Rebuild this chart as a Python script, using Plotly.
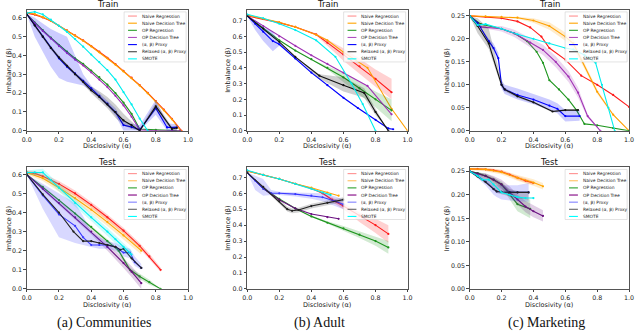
import plotly.graph_objects as go

W, H = 640, 333

SERIES = ["Naive Regression", "Naive Decision Tree", "OP Regression", "OP Decision Tree",
          "(α, β) Proxy", "Relaxed (α, β) Proxy", "SMOTE"]

# ---------------- Communities / Train ----------------
COMM_TRAIN = {
    "Naive Regression": dict(
        x=[0, 0.05, 0.1, 0.15, 0.2, 0.25, 0.3, 0.35, 0.4, 0.45, 0.5, 0.55, 0.6, 0.65, 0.7, 0.75, 0.8, 0.85, 0.9, 0.96],
        y=[0.625, 0.617, 0.602, 0.583, 0.558, 0.533, 0.507, 0.48, 0.45, 0.42, 0.388, 0.354, 0.318, 0.282, 0.243, 0.202, 0.158, 0.112, 0.064, 0.0]),
    "Naive Decision Tree": dict(
        x=[0, 0.05, 0.1, 0.15, 0.2, 0.25, 0.3, 0.35, 0.4, 0.45, 0.5, 0.55, 0.6, 0.65, 0.7, 0.75, 0.8, 0.85, 0.9, 0.955],
        y=[0.628, 0.62, 0.604, 0.584, 0.558, 0.532, 0.505, 0.478, 0.448, 0.417, 0.385, 0.351, 0.315, 0.279, 0.24, 0.199, 0.155, 0.109, 0.061, 0.0]),
    "OP Regression": dict(
        x=[0, 0.05, 0.1, 0.15, 0.2, 0.25, 0.3, 0.35, 0.4, 0.45, 0.5, 0.55, 0.6, 0.65, 0.7, 0.8, 0.9, 0.95],
        y=[0.62, 0.575, 0.535, 0.495, 0.455, 0.42, 0.385, 0.355, 0.32, 0.285, 0.245, 0.2, 0.15, 0.09, 0.01, 0.005, 0.0, 0.0]),
    "OP Decision Tree": dict(
        x=[0, 0.05, 0.1, 0.15, 0.2, 0.25, 0.3, 0.35, 0.4, 0.45, 0.5, 0.55, 0.6, 0.65, 0.7, 0.8, 0.9, 0.95],
        y=[0.62, 0.572, 0.53, 0.49, 0.45, 0.413, 0.378, 0.347, 0.31, 0.272, 0.232, 0.186, 0.135, 0.075, 0.005, 0.0, 0.0, 0.0]),
    "(α, β) Proxy": dict(
        x=[0, 0.05, 0.1, 0.15, 0.2, 0.25, 0.3, 0.35, 0.4, 0.45, 0.5, 0.55, 0.6, 0.65, 0.7, 0.8, 0.87, 0.93],
        y=[0.62, 0.56, 0.5, 0.44, 0.385, 0.34, 0.305, 0.265, 0.225, 0.185, 0.145, 0.1, 0.03, 0.02, 0.005, 0.12, 0.018, 0.018],
        lo=[0.62, 0.5, 0.42, 0.34, 0.28, 0.26, 0.25, 0.24, 0.21, 0.17, 0.13, 0.08, 0.0, 0.0, 0.0, 0.085, 0.0, 0.0],
        hi=[0.62, 0.6, 0.57, 0.54, 0.52, 0.5, 0.4, 0.3, 0.24, 0.2, 0.16, 0.12, 0.05, 0.04, 0.03, 0.165, 0.04, 0.035]),
    "Relaxed (α, β) Proxy": dict(
        x=[0, 0.05, 0.1, 0.15, 0.2, 0.25, 0.3, 0.35, 0.4, 0.45, 0.5, 0.55, 0.6, 0.65, 0.7, 0.8, 0.9, 0.93],
        y=[0.62, 0.56, 0.5, 0.44, 0.39, 0.345, 0.3, 0.26, 0.215, 0.18, 0.14, 0.1, 0.055, 0.03, 0.0, 0.13, 0.01, 0.015],
        lo=[0.62, 0.55, 0.49, 0.43, 0.38, 0.335, 0.29, 0.25, 0.2, 0.16, 0.12, 0.07, 0.03, 0.01, 0.0, 0.11, 0.0, 0.0],
        hi=[0.62, 0.57, 0.51, 0.45, 0.4, 0.355, 0.31, 0.275, 0.235, 0.21, 0.18, 0.14, 0.09, 0.05, 0.01, 0.15, 0.02, 0.03]),
    "SMOTE": dict(
        x=[0, 0.05, 0.1, 0.15, 0.2, 0.25, 0.3, 0.35, 0.4, 0.45, 0.5, 0.55, 0.6, 0.65, 0.7, 0.75],
        y=[0.625, 0.632, 0.618, 0.59, 0.558, 0.525, 0.487, 0.447, 0.405, 0.365, 0.322, 0.272, 0.205, 0.14, 0.065, 0.0]),
}

# ---------------- Adult / Train ----------------
ADULT_TRAIN = {
    "Naive Regression": dict(
        x=[0, 0.1, 0.2, 0.3, 0.43, 0.5, 0.6, 0.7, 0.8, 0.9],
        y=[0.73, 0.71, 0.687, 0.66, 0.612, 0.56, 0.485, 0.41, 0.33, 0.245],
        lo=[0.73, 0.708, 0.684, 0.656, 0.606, 0.54, 0.445, 0.36, 0.28, 0.2],
        hi=[0.73, 0.712, 0.69, 0.664, 0.618, 0.58, 0.525, 0.46, 0.39, 0.33]),
    "Naive Decision Tree": dict(
        x=[0, 0.1, 0.2, 0.3, 0.43, 0.5, 0.6, 0.75, 0.9, 1.0],
        y=[0.735, 0.713, 0.69, 0.66, 0.61, 0.575, 0.5, 0.4, 0.14, 0.0]),
    "OP Regression": dict(
        x=[0, 0.1, 0.2, 0.3, 0.4, 0.5, 0.6, 0.7, 0.8, 0.9],
        y=[0.73, 0.65, 0.575, 0.51, 0.455, 0.4, 0.34, 0.27, 0.2, 0.13],
        lo=[0.73, 0.65, 0.575, 0.51, 0.455, 0.39, 0.31, 0.23, 0.15, 0.06],
        hi=[0.73, 0.65, 0.575, 0.51, 0.455, 0.41, 0.37, 0.31, 0.25, 0.2]),
    "OP Decision Tree": dict(
        x=[0, 0.1, 0.2, 0.3, 0.4, 0.5, 0.6, 0.75, 0.9],
        y=[0.73, 0.665, 0.6, 0.54, 0.48, 0.425, 0.37, 0.285, 0.105]),
    "(α, β) Proxy": dict(
        x=[0, 0.05, 0.1, 0.16, 0.2, 0.3, 0.4, 0.5, 0.6, 0.69, 0.8, 0.88, 0.91],
        y=[0.73, 0.68, 0.63, 0.57, 0.55, 0.46, 0.37, 0.29, 0.21, 0.145, 0.07, 0.015, 0.01],
        lo=[0.73, 0.64, 0.57, 0.505, 0.54, 0.455, 0.365, 0.285, 0.205, 0.14, 0.065, 0.01, 0.005],
        hi=[0.73, 0.7, 0.66, 0.63, 0.56, 0.465, 0.375, 0.295, 0.215, 0.15, 0.075, 0.02, 0.015]),
    "Relaxed (α, β) Proxy": dict(
        x=[0, 0.1, 0.2, 0.3, 0.45, 0.6, 0.73, 0.8, 0.88],
        y=[0.73, 0.65, 0.565, 0.47, 0.35, 0.29, 0.24, 0.12, 0.0],
        lo=[0.73, 0.65, 0.565, 0.47, 0.33, 0.25, 0.21, 0.1, 0.0],
        hi=[0.73, 0.65, 0.565, 0.47, 0.36, 0.34, 0.27, 0.14, 0.0]),
    "SMOTE": dict(
        x=[0, 0.1, 0.2, 0.3, 0.43, 0.55, 0.65, 0.72, 0.8],
        y=[0.74, 0.715, 0.68, 0.64, 0.575, 0.47, 0.3, 0.17, 0.0]),
}

# ---------------- Marketing / Train ----------------
MARKET_TRAIN = {
    "Naive Regression": dict(
        x=[0, 0.1, 0.2, 0.3, 0.38, 0.45, 0.5, 0.6, 0.7, 0.8, 0.9, 1.0],
        y=[0.25, 0.248, 0.245, 0.238, 0.225, 0.205, 0.18, 0.155, 0.12, 0.1, 0.078, 0.052]),
    "Naive Decision Tree": dict(
        x=[0, 0.1, 0.2, 0.3, 0.4, 0.5, 0.6, 0.65, 0.7, 0.8, 0.9, 1.0],
        y=[0.25, 0.249, 0.248, 0.246, 0.24, 0.228, 0.205, 0.19, 0.155, 0.085, 0.035, 0.0],
        lo=[0.25, 0.249, 0.247, 0.244, 0.235, 0.22, 0.196, 0.18, 0.148, 0.08, 0.033, 0.0],
        hi=[0.25, 0.249, 0.249, 0.248, 0.245, 0.236, 0.214, 0.2, 0.162, 0.09, 0.037, 0.0]),
    "OP Regression": dict(
        x=[0, 0.07, 0.2, 0.28, 0.36, 0.42, 0.46, 0.5, 0.56, 0.62, 0.67, 0.72, 0.8, 0.9, 1.0],
        y=[0.25, 0.232, 0.222, 0.212, 0.195, 0.172, 0.148, 0.11, 0.09, 0.068, 0.045, 0.015, 0.012, 0.006, 0.0]),
    "OP Decision Tree": dict(
        x=[0, 0.07, 0.2, 0.28, 0.38, 0.46, 0.54, 0.62, 0.68, 0.74, 0.82],
        y=[0.25, 0.226, 0.222, 0.212, 0.192, 0.176, 0.15, 0.118, 0.083, 0.032, 0.0],
        lo=[0.25, 0.224, 0.216, 0.204, 0.182, 0.165, 0.138, 0.106, 0.072, 0.028, 0.0],
        hi=[0.25, 0.228, 0.228, 0.22, 0.202, 0.187, 0.162, 0.13, 0.094, 0.036, 0.0]),
    "(α, β) Proxy": dict(
        x=[0, 0.05, 0.12, 0.15, 0.18, 0.2, 0.22, 0.3, 0.4, 0.5, 0.55, 0.6, 0.69],
        y=[0.25, 0.235, 0.195, 0.18, 0.158, 0.1, 0.09, 0.078, 0.068, 0.055, 0.048, 0.032, 0.032],
        lo=[0.25, 0.235, 0.19, 0.175, 0.15, 0.092, 0.08, 0.068, 0.058, 0.045, 0.038, 0.02, 0.022],
        hi=[0.25, 0.235, 0.2, 0.19, 0.17, 0.11, 0.1, 0.092, 0.08, 0.068, 0.06, 0.045, 0.045]),
    "Relaxed (α, β) Proxy": dict(
        x=[0, 0.05, 0.12, 0.2, 0.22, 0.3, 0.4, 0.52, 0.6, 0.68],
        y=[0.25, 0.228, 0.19, 0.1, 0.09, 0.075, 0.062, 0.042, 0.045, 0.045],
        lo=[0.25, 0.212, 0.178, 0.095, 0.086, 0.072, 0.06, 0.04, 0.043, 0.043],
        hi=[0.25, 0.245, 0.222, 0.11, 0.094, 0.078, 0.064, 0.044, 0.047, 0.047]),
    "SMOTE": dict(
        x=[0, 0.05, 0.1, 0.2, 0.3, 0.4, 0.5, 0.6, 0.65, 0.72, 0.79, 0.83, 0.87, 0.91],
        y=[0.25, 0.23, 0.232, 0.222, 0.21, 0.2, 0.19, 0.18, 0.177, 0.165, 0.148, 0.1, 0.05, 0.0]),
}

# ---------------- Communities / Test ----------------
COMM_TEST = {
    "Naive Regression": dict(
        x=[0, 0.05, 0.1, 0.15, 0.2, 0.3, 0.4, 0.5, 0.6, 0.7, 0.76, 0.83],
        y=[0.61, 0.605, 0.59, 0.57, 0.55, 0.5, 0.44, 0.375, 0.305, 0.225, 0.17, 0.1],
        lo=[0.6, 0.593, 0.577, 0.556, 0.535, 0.485, 0.425, 0.36, 0.29, 0.21, 0.155, 0.088],
        hi=[0.62, 0.617, 0.603, 0.584, 0.565, 0.515, 0.455, 0.39, 0.32, 0.24, 0.185, 0.112]),
    "Naive Decision Tree": dict(
        x=[0, 0.1, 0.2, 0.3, 0.4, 0.5, 0.6, 0.71],
        y=[0.61, 0.58, 0.53, 0.475, 0.415, 0.35, 0.28, 0.2],
        lo=[0.6, 0.565, 0.51, 0.455, 0.395, 0.33, 0.26, 0.18],
        hi=[0.62, 0.595, 0.55, 0.495, 0.435, 0.37, 0.3, 0.22]),
    "OP Regression": dict(
        x=[0, 0.1, 0.2, 0.3, 0.4, 0.5, 0.57, 0.64, 0.7, 0.76, 0.83],
        y=[0.6, 0.535, 0.465, 0.395, 0.325, 0.25, 0.2, 0.1, 0.065, 0.035, 0.0],
        lo=[0.6, 0.53, 0.46, 0.39, 0.318, 0.24, 0.188, 0.088, 0.052, 0.022, 0.0],
        hi=[0.6, 0.54, 0.47, 0.4, 0.332, 0.26, 0.212, 0.112, 0.078, 0.048, 0.0]),
    "OP Decision Tree": dict(
        x=[0, 0.1, 0.2, 0.3, 0.4, 0.5, 0.6, 0.65, 0.71],
        y=[0.6, 0.525, 0.45, 0.375, 0.3, 0.22, 0.135, 0.09, 0.03],
        lo=[0.6, 0.515, 0.44, 0.362, 0.285, 0.2, 0.11, 0.062, 0.0],
        hi=[0.6, 0.535, 0.46, 0.388, 0.315, 0.24, 0.16, 0.118, 0.06]),
    "(α, β) Proxy": dict(
        x=[0, 0.1, 0.2, 0.3, 0.35, 0.4, 0.45, 0.5, 0.55, 0.6, 0.64, 0.67, 0.71],
        y=[0.6, 0.49, 0.39, 0.33, 0.27, 0.23, 0.23, 0.23, 0.22, 0.19, 0.19, 0.14, 0.11],
        lo=[0.6, 0.42, 0.27, 0.24, 0.23, 0.22, 0.21, 0.21, 0.2, 0.17, 0.16, 0.12, 0.1],
        hi=[0.6, 0.55, 0.5, 0.45, 0.38, 0.3, 0.27, 0.25, 0.24, 0.22, 0.21, 0.17, 0.13]),
    "Relaxed (α, β) Proxy": dict(
        x=[0, 0.1, 0.2, 0.29, 0.35, 0.4, 0.45, 0.5, 0.55, 0.58, 0.6, 0.65, 0.71],
        y=[0.6, 0.495, 0.4, 0.3, 0.25, 0.25, 0.24, 0.23, 0.22, 0.205, 0.21, 0.16, 0.11]),
    "SMOTE": dict(
        x=[0, 0.05, 0.1, 0.15, 0.2, 0.3, 0.4, 0.5, 0.55, 0.6, 0.65],
        y=[0.61, 0.61, 0.61, 0.57, 0.53, 0.45, 0.375, 0.3, 0.26, 0.22, 0.18],
        lo=[0.6, 0.595, 0.59, 0.55, 0.51, 0.43, 0.355, 0.28, 0.24, 0.2, 0.16],
        hi=[0.62, 0.625, 0.63, 0.59, 0.55, 0.47, 0.395, 0.32, 0.28, 0.24, 0.2]),
}

# ---------------- Adult / Test ----------------
ADULT_TEST = {
    "Naive Regression": dict(
        x=[0, 0.1, 0.2, 0.3, 0.4, 0.47, 0.53, 0.6, 0.7, 0.8, 0.88],
        y=[0.74, 0.715, 0.69, 0.66, 0.63, 0.6, 0.56, 0.52, 0.46, 0.4, 0.345],
        lo=[0.74, 0.715, 0.69, 0.66, 0.63, 0.595, 0.545, 0.5, 0.42, 0.35, 0.29],
        hi=[0.74, 0.715, 0.69, 0.66, 0.63, 0.605, 0.575, 0.54, 0.48, 0.44, 0.4]),
    "Naive Decision Tree": dict(
        x=[0, 0.1, 0.2, 0.3, 0.4, 0.5, 0.57],
        y=[0.74, 0.715, 0.69, 0.66, 0.635, 0.605, 0.585]),
    "OP Regression": dict(
        x=[0, 0.1, 0.2, 0.3, 0.4, 0.5, 0.6, 0.7, 0.8, 0.88],
        y=[0.73, 0.63, 0.565, 0.505, 0.455, 0.415, 0.38, 0.34, 0.3, 0.26],
        lo=[0.73, 0.625, 0.56, 0.5, 0.45, 0.405, 0.365, 0.32, 0.27, 0.22],
        hi=[0.73, 0.635, 0.57, 0.51, 0.46, 0.425, 0.395, 0.36, 0.33, 0.3]),
    "OP Decision Tree": dict(
        x=[0, 0.1, 0.2, 0.3, 0.4, 0.5, 0.57],
        y=[0.73, 0.63, 0.56, 0.505, 0.47, 0.45, 0.44]),
    "(α, β) Proxy": dict(
        x=[0, 0.05, 0.1, 0.15, 0.2, 0.3, 0.4, 0.47, 0.55, 0.6],
        y=[0.73, 0.68, 0.63, 0.6, 0.6, 0.595, 0.585, 0.575, 0.55, 0.53],
        lo=[0.73, 0.62, 0.585, 0.59, 0.59, 0.58, 0.565, 0.55, 0.52, 0.5],
        hi=[0.73, 0.71, 0.69, 0.62, 0.61, 0.605, 0.6, 0.6, 0.58, 0.56]),
    "Relaxed (α, β) Proxy": dict(
        x=[0, 0.1, 0.2, 0.25, 0.28, 0.32, 0.4, 0.5, 0.6],
        y=[0.73, 0.64, 0.55, 0.5, 0.49, 0.495, 0.52, 0.54, 0.56],
        lo=[0.73, 0.63, 0.535, 0.485, 0.475, 0.48, 0.505, 0.525, 0.545],
        hi=[0.73, 0.65, 0.565, 0.515, 0.505, 0.51, 0.535, 0.555, 0.575]),
    "SMOTE": dict(
        x=[0, 0.1, 0.2, 0.3, 0.4, 0.47, 0.52],
        y=[0.745, 0.715, 0.69, 0.66, 0.63, 0.605, 0.59]),
}

# ---------------- Marketing / Test ----------------
MARKET_TEST = {
    "Naive Regression": dict(
        x=[0, 0.05, 0.1, 0.15, 0.2, 0.25, 0.3, 0.35, 0.4],
        y=[0.255, 0.255, 0.254, 0.252, 0.249, 0.243, 0.236, 0.23, 0.225],
        lo=[0.253, 0.253, 0.251, 0.249, 0.246, 0.24, 0.232, 0.226, 0.221],
        hi=[0.257, 0.257, 0.257, 0.255, 0.252, 0.246, 0.24, 0.234, 0.229]),
    "Naive Decision Tree": dict(
        x=[0, 0.1, 0.2, 0.3, 0.4, 0.46],
        y=[0.255, 0.254, 0.248, 0.236, 0.226, 0.218],
        lo=[0.252, 0.25, 0.243, 0.23, 0.219, 0.211],
        hi=[0.258, 0.258, 0.253, 0.242, 0.233, 0.225]),
    "OP Regression": dict(
        x=[0, 0.05, 0.1, 0.15, 0.2, 0.25, 0.3, 0.38],
        y=[0.25, 0.246, 0.24, 0.232, 0.222, 0.2, 0.18, 0.17],
        lo=[0.25, 0.244, 0.237, 0.228, 0.216, 0.19, 0.165, 0.15],
        hi=[0.25, 0.248, 0.243, 0.236, 0.228, 0.21, 0.195, 0.19]),
    "OP Decision Tree": dict(
        x=[0, 0.05, 0.1, 0.15, 0.2, 0.25, 0.3, 0.35, 0.4, 0.46],
        y=[0.25, 0.245, 0.24, 0.232, 0.222, 0.205, 0.19, 0.175, 0.165, 0.155],
        lo=[0.25, 0.242, 0.235, 0.225, 0.212, 0.195, 0.18, 0.163, 0.152, 0.143],
        hi=[0.25, 0.248, 0.245, 0.24, 0.232, 0.218, 0.2, 0.187, 0.178, 0.167]),
    "(α, β) Proxy": dict(
        x=[0, 0.05, 0.1, 0.15, 0.17, 0.2, 0.25, 0.3, 0.37],
        y=[0.25, 0.24, 0.228, 0.212, 0.207, 0.206, 0.205, 0.205, 0.205],
        lo=[0.25, 0.235, 0.22, 0.2, 0.195, 0.19, 0.188, 0.186, 0.185],
        hi=[0.25, 0.245, 0.235, 0.222, 0.22, 0.22, 0.22, 0.22, 0.225]),
    "Relaxed (α, β) Proxy": dict(
        x=[0, 0.05, 0.1, 0.15, 0.17, 0.2, 0.25, 0.3, 0.37],
        y=[0.25, 0.239, 0.227, 0.212, 0.207, 0.206, 0.205, 0.205, 0.205],
        lo=[0.25, 0.236, 0.225, 0.21, 0.204, 0.2, 0.196, 0.192, 0.19],
        hi=[0.25, 0.248, 0.245, 0.238, 0.232, 0.225, 0.212, 0.208, 0.208]),
    "SMOTE": dict(
        x=[0, 0.05, 0.08, 0.12, 0.15, 0.2, 0.25, 0.3, 0.35, 0.4],
        y=[0.25, 0.24, 0.232, 0.232, 0.222, 0.205, 0.2, 0.195, 0.193, 0.193]),
}

TRAIN_COLORS = ["#ff1a1a", "#ffa000", "#1e961e", "#a032b4", "#0000ff", "#111111", "#00eeee"]
TEST_COLORS = ["#ff1a1a", "#ffa500", "#1e961e", "#6a0f80", "#3a3aff", "#222222", "#00eeee"]
TRAIN_LEG = ["#ff9090", "#ffa500", "#2ca02c", "#b050c0", "#0000ff", "#444444", "#00ffff"]
TEST_LEG = ["#ff9090", "#ffc060", "#2ca02c", "#800080", "#8080ff", "#666666", "#00ffff"]

# panel layout in pixel space: (data, x_left, x_right, y_top, y_bottom, ymax, dtick, fmt, title, colors, legcolors)
PANELS = [
    (COMM_TRAIN, 22, 186, 10, 132, 0.642, 0.1, ".1f", "Train", TRAIN_COLORS, TRAIN_LEG),
    (ADULT_TRAIN, 246, 409, 10, 132, 0.768, 0.1, ".1f", "Train", TRAIN_COLORS, TRAIN_LEG),
    (MARKET_TRAIN, 472, 634, 10, 132, 0.263, 0.05, ".2f", "Train", TRAIN_COLORS, TRAIN_LEG),
    (COMM_TEST, 22, 186, 169, 291.5, 0.636, 0.1, ".1f", "Test", TEST_COLORS, TEST_LEG),
    (ADULT_TEST, 246, 409, 169, 291.5, 0.762, 0.1, ".1f", "Test", TEST_COLORS, TEST_LEG),
    (MARKET_TEST, 472, 634, 169, 291.5, 0.258, 0.05, ".2f", "Test", TEST_COLORS, TEST_LEG),
]
YLABEL_X = [4, 227, 449]
CAPTIONS = ["(a) Communities", "(b) Adult", "(c) Marketing"]
CAPTION_X = [101, 319, 550]

FONT = "DejaVu Sans"


def px(x):
    return x / W


def py(y):
    return 1 - y / H


def rgba(hexc, a):
    h = hexc.lstrip("#")
    r, g, b = int(h[0:2], 16), int(h[2:4], 16), int(h[4:6], 16)
    return f"rgba({r},{g},{b},{a})"


fig = go.Figure()
annotations = []
shapes = []
layout_axes = {}

for i, (data, xl, xr, yt, yb, ymax, dtick, fmt, title, colors, legcolors) in enumerate(PANELS):
    n = i + 1
    xa = "x" if n == 1 else f"x{n}"
    ya = "y" if n == 1 else f"y{n}"
    for name, color in zip(SERIES, colors):
        s = data.get(name)
        if s is None:
            continue
        if "lo" in s:
            fig.add_trace(go.Scatter(
                x=s["x"] + s["x"][::-1], y=s["hi"] + s["lo"][::-1],
                fill="toself", fillcolor=rgba(color, 0.2), line=dict(width=0),
                mode="lines", xaxis=xa, yaxis=ya, hoverinfo="skip", showlegend=False))
        fig.add_trace(go.Scatter(
            x=s["x"], y=s["y"], mode="lines+markers", name=name,
            line=dict(color=color, width=1.1), marker=dict(size=2.2, color=color),
            xaxis=xa, yaxis=ya, showlegend=False))

    axcommon = dict(showgrid=False, zeroline=False, showline=True, linecolor="#555555",
                    linewidth=0.8, mirror=True, ticks="outside", ticklen=2.5, tickwidth=0.8,
                    tickcolor="#444444", tickfont=dict(size=6.3, color="#222222", family=FONT))
    layout_axes["xaxis" if n == 1 else f"xaxis{n}"] = dict(
        domain=[px(xl), px(xr)], range=[0, 1], dtick=0.2, tickformat=".1f",
        anchor=ya, **axcommon)
    layout_axes["yaxis" if n == 1 else f"yaxis{n}"] = dict(
        domain=[py(yb), py(yt)], range=[0, ymax], dtick=dtick, tickformat=fmt,
        anchor=xa, **axcommon)

    cx = (xl + xr) / 2
    # subplot title
    annotations.append(dict(text=title, x=px(cx), y=py(yt - 5.5), xref="paper", yref="paper",
                            showarrow=False, font=dict(size=8.5, family=FONT, color="#111"),
                            xanchor="center", yanchor="middle"))
    # x axis label
    annotations.append(dict(text="Disclosivity (α)", x=px(cx), y=py(yb + 15.8), xref="paper",
                            yref="paper", showarrow=False,
                            font=dict(size=6.5, family=FONT, color="#222"),
                            xanchor="center", yanchor="middle"))
    # y axis label
    annotations.append(dict(text="Imbalance (β)", x=px(YLABEL_X[i % 3]), y=py((yt + yb) / 2),
                            xref="paper", yref="paper", showarrow=False, textangle=-90,
                            font=dict(size=6.5, family=FONT, color="#222"),
                            xanchor="center", yanchor="middle"))
    # legend (drawn manually to mimic the compact matplotlib legend)
    bx0, bx1, by0, by1 = xr - 65, xr - 2, yt + 2, yt + 52.5
    shapes.append(dict(type="rect", xref="paper", yref="paper", x0=px(bx0), x1=px(bx1),
                       y0=py(by1), y1=py(by0), line=dict(color="#d0d0d0", width=0.6),
                       fillcolor="rgba(255,255,255,0.8)", layer="above"))
    for k, (name, lc) in enumerate(zip(SERIES, legcolors)):
        ry = by0 + 4.2 + k * 7.2
        shapes.append(dict(type="line", xref="paper", yref="paper", x0=px(bx0 + 4),
                           x1=px(bx0 + 13), y0=py(ry), y1=py(ry),
                           line=dict(color=lc, width=1.1), layer="above"))
        annotations.append(dict(text=name, x=px(bx0 + 16), y=py(ry), xref="paper",
                                yref="paper", showarrow=False, xanchor="left",
                                yanchor="middle",
                                font=dict(size=4.4, family=FONT, color="#222")))

for j in range(3):
    annotations.append(dict(text=CAPTIONS[j], x=px(CAPTION_X[j]), y=py(325.5), xref="paper",
                            yref="paper", showarrow=False, xanchor="center", yanchor="middle",
                            font=dict(size=14, family="Liberation Serif", color="#111")))

fig.update_layout(width=W, height=H, margin=dict(l=0, r=0, t=0, b=0),
                  paper_bgcolor="white", plot_bgcolor="white",
                  annotations=annotations, shapes=shapes, **layout_axes)

fig.write_html("out.html", config={"displayModeBar": False},
               post_script="document.body.style.margin='0px';")
